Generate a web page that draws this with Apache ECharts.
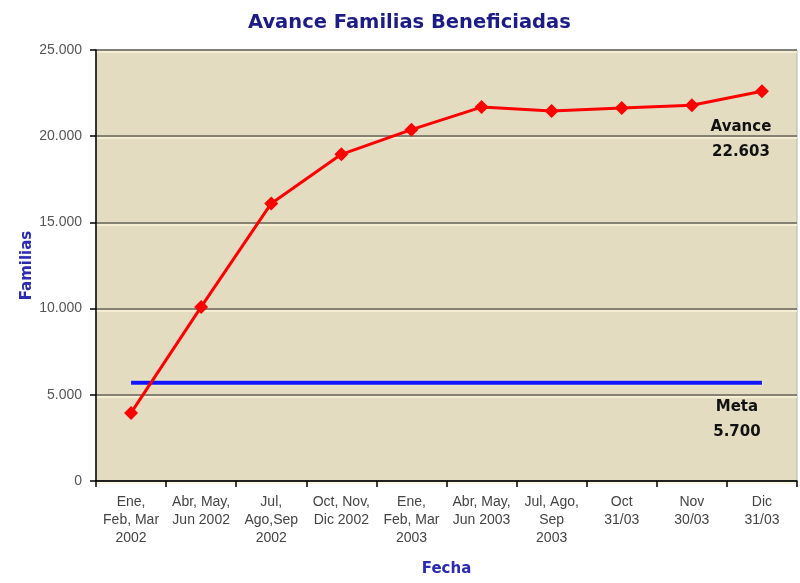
<!DOCTYPE html>
<html>
<head>
<meta charset="utf-8">
<script src="https://cdn.jsdelivr.net/npm/echarts@6/dist/echarts.min.js"></script>
<style>html,body{margin:0;padding:0;background:#fff}#c{width:800px;height:583px}</style>
</head>
<body>
<div id="c"></div>
<script>
var categories = ["Ene,\nFeb, Mar\n2002","Abr, May,\nJun 2002","Jul,\nAgo,Sep\n2002","Oct, Nov,\nDic 2002","Ene,\nFeb, Mar\n2003","Abr, May,\nJun 2003","Jul, Ago,\nSep\n2003","Oct\n31/03","Nov\n30/03","Dic\n31/03"];
var avance = [3950, 10100, 16100, 18950, 20380, 21690, 21460, 21640, 21790, 22603];
var meta = [5700, 5700, 5700, 5700, 5700, 5700, 5700, 5700, 5700, 5700];
var yTicks = [0, 5000, 10000, 15000, 20000, 25000];
var avanceLabel = "Avance\n22.603";
var metaLabel = "Meta\n5.700";

function fmt(v){ return v === 0 ? "0" : String(v).replace(/(\d)(?=(\d{3})+$)/g, "$1."); }

var chart = echarts.init(document.getElementById('c'), null, {renderer:'canvas'});
var lblStyle = {fontFamily:'DejaVu Sans', fontWeight:'bold', fontSize:15, lineHeight:25, color:'#111'};
var avData = avance.map(function(v,i){
  if (i === avance.length-1) return {value:v, label:Object.assign({show:true, formatter:avanceLabel, position:'inside', offset:[-21,48]}, lblStyle)};
  return v;
});
var mData = meta.map(function(v,i){
  if (i === meta.length-1) return {value:v, label:Object.assign({show:true, formatter:metaLabel, position:'inside', offset:[-25,37]}, lblStyle)};
  return v;
});
chart.setOption({
  animation:false,
  backgroundColor:'#ffffff',
  title:{text:'Avance Familias Beneficiadas', left:243, top:8,
    textStyle:{fontFamily:'DejaVu Sans', fontWeight:'bold', fontSize:19.5, color:'#1c1c88'}},
  grid:{left:96, right:3, top:50, bottom:102, show:true, backgroundColor:'#e3dcc0', borderColor:'#b4b4b4', borderWidth:1},
  xAxis:{type:'category', data:categories, boundaryGap:true,
    name:'Fecha', nameLocation:'middle', nameGap:81, nameMoveOverlap:false,
    nameTextStyle:{fontFamily:'DejaVu Sans', fontWeight:'bold', fontSize:15, color:'#2a2ab4'},
    axisLine:{lineStyle:{color:'#000', width:1.5}},
    axisTick:{show:true, alignWithLabel:false, length:6, lineStyle:{color:'#000', width:1.5}},
    axisLabel:{interval:0, margin:12, fontFamily:'Liberation Sans', fontSize:14, lineHeight:18, color:'#444'},
    splitLine:{show:false}},
  yAxis:{type:'value', min:0, max:25000, interval:5000,
    name:'Familias', nameLocation:'middle', nameGap:61, nameRotate:90, nameMoveOverlap:false,
    nameTextStyle:{fontFamily:'DejaVu Sans', fontWeight:'bold', fontSize:15, color:'#2a2ab4'},
    axisLine:{show:true, lineStyle:{color:'#000', width:1.5}},
    axisTick:{show:true, length:6, lineStyle:{color:'#000', width:1.5}},
    axisLabel:{margin:14, fontFamily:'Liberation Sans', fontSize:14, color:'#555',
      formatter:function(v){ return yTicks.indexOf(v) >= 0 ? fmt(v) : ''; }},
    splitLine:{show:true, lineStyle:{color:'#66635a', width:1.6, shadowColor:'#fbf5d8', shadowOffsetY:2, shadowBlur:0}}},
  series:[
    {name:'Meta', type:'line', data:mData, symbol:'circle', showSymbol:true, symbolSize:1,
     itemStyle:{color:'rgba(0,0,0,0)'},
     lineStyle:{color:'#1414ff', width:4, shadowColor:'#fff6c4', shadowBlur:3},
     z:2},
    {name:'Avance', type:'line', data:avData, symbol:'diamond', symbolSize:14,
     itemStyle:{color:'#ff0000'}, lineStyle:{color:'#ff0000', width:3},
     z:3}
  ]
});
</script>
</body>
</html>
